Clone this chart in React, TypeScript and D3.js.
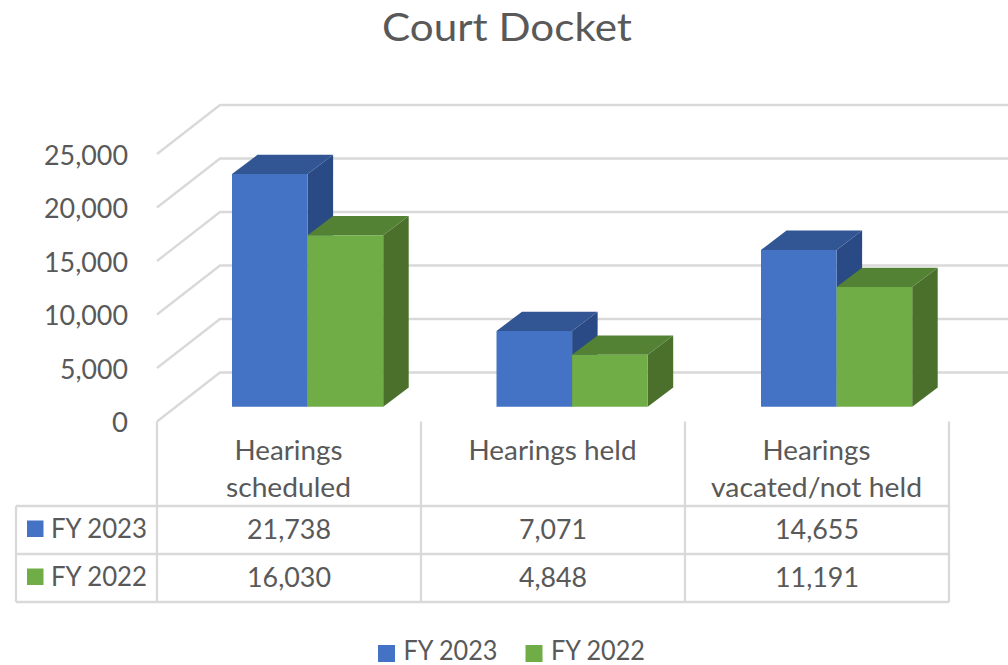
import { useEffect, useRef } from "react";
import * as d3 from "d3";

const title = "Court Docket";
const categories = ["Hearings scheduled", "Hearings held", "Hearings vacated/not held"];
const categoryLines = [["Hearings", "scheduled"], ["Hearings held"], ["Hearings", "vacated/not held"]];
const seriesNames = ["FY 2023", "FY 2022"];
const fy2023 = [21738, 7071, 14655];
const fy2022 = [16030, 4848, 11191];
const yTicks = [0, 5000, 10000, 15000, 20000, 25000];

const textColor = "#595959";
const gridColor = "#d9d9d9";
const fontFamily = "Lato, Carlito, sans-serif";
const seriesColors = [
    { front: "#4472c4", top: "#325593", side: "#2a4a85" },
    { front: "#70ad47", top: "#548235", side: "#4a702c" },
];

export default function App() {
    const ref = useRef<SVGSVGElement>(null);

    useEffect(() => {
        const svg = d3.select(ref.current);
        svg.selectAll("*").remove();
        const fmt = d3.format(",");

        // Lato is wider than the original font, so every label is squeezed to its measured width
        const addText = (s: string, x: number, y: number, size: number, anchor: string, width: number) =>
            svg.append("text")
                .text(s)
                .attr("x", x)
                .attr("y", y)
                .attr("font-size", size)
                .attr("text-anchor", anchor)
                .attr("fill", textColor)
                .attr("font-family", fontFamily)
                .attr("textLength", width)
                .attr("lengthAdjust", "spacingAndGlyphs");

        const numberWidth = (s: string) => (s.length === 1 ? 16 : s.length === 5 ? 68 : 84);

        const tableLeft = 157;
        const tableRight = 949;
        const front0 = 421.5;
        const wallDx = 63;
        const wallDy = 49;
        const barDx = 25.5;
        const barDy = 19.3;
        const barBottom = 406.7;
        const lineWidth = 2.3;

        const h = d3.scaleLinear().domain([0, 25000]).range([0, 267.5]);
        const xBand = d3.scaleBand().domain(categories).range([tableLeft, tableRight]);
        const xBars = d3.scaleBand().domain(categories).range([232, 232 + 793.5]);
        const rows = d3.scaleBand().domain(seriesNames).range([506, 602]);
        const barW = 75.6;

        addText(title, 507, 41, 39, "middle", 250);

        // gridlines: back wall + side wall
        yTicks.forEach((t) => {
            const yf = front0 - h(t);
            const line = d3.line();
            svg.append("path")
                .attr("d", line([[tableLeft, yf], [tableLeft + wallDx, yf - wallDy], [1008, yf - wallDy]]))
                .attr("fill", "none")
                .attr("stroke", gridColor)
                .attr("stroke-width", lineWidth);
            addText(fmt(t), 128, yf + 10.5, 26, "end", numberWidth(fmt(t)));
        });

        // 3d bars
        const poly = (pts: [number, number][], fill: string) =>
            svg.append("path").attr("d", d3.line()(pts) + "Z").attr("fill", fill);

        categories.forEach((c, i) => {
            [fy2023, fy2022].forEach((vals, k) => {
                const x0 = (xBars(c) as number) + k * barW;
                const x1 = x0 + barW;
                const top = barBottom - h(vals[i]);
                const col = seriesColors[k];
                poly([[x1, top], [x1 + barDx, top - barDy], [x1 + barDx, barBottom - barDy], [x1, barBottom]], col.side);
                poly([[x0, top], [x0 + barDx, top - barDy], [x1 + barDx, top - barDy], [x1, top]], col.top);
                poly([[x0, top], [x1, top], [x1, barBottom], [x0, barBottom]], col.front);
            });
        });

        // data table
        const tableLines: [number, number, number, number][] = [
            [16, 506, tableRight, 506],
            [16, 554, tableRight, 554],
            [16, 602, tableRight, 602],
            [16, 506, 16, 602],
        ];
        [...categories.map((c) => xBand(c) as number), tableRight].forEach((x) => {
            tableLines.push([x, front0, x, 602]);
        });
        tableLines.forEach(([x1, y1, x2, y2]) => {
            svg.append("line")
                .attr("x1", x1).attr("y1", y1).attr("x2", x2).attr("y2", y2)
                .attr("stroke", gridColor)
                .attr("stroke-width", lineWidth);
        });

        categories.forEach((c, i) => {
            const cx = (xBand(c) as number) + xBand.bandwidth() / 2;
            const lines = categoryLines[i];
            const widths: Record<string, number> = {
                "Hearings": 108,
                "scheduled": 125,
                "Hearings held": 168,
                "vacated/not held": 211,
            };
            lines.forEach((s, j) => addText(s, cx - 0.5, 459.7 + j * 37, 26, "middle", widths[s]));
            [fy2023, fy2022].forEach((vals, k) => {
                const y = (rows(seriesNames[k]) as number) + 32.5;
                addText(fmt(vals[i]), cx, y, 26, "middle", numberWidth(fmt(vals[i])));
            });
        });

        seriesNames.forEach((s, k) => {
            const y = rows(s) as number;
            svg.append("rect")
                .attr("x", 27).attr("y", y + 14.5)
                .attr("width", 16.5).attr("height", 16.5)
                .attr("fill", seriesColors[k].front);
            addText(s, 51, y + 32, 26, "start", 96);
        });

        // legend
        const legendX = d3.scaleBand().domain(seriesNames).range([378, 673]);
        seriesNames.forEach((s, k) => {
            const x = legendX(s) as number;
            svg.append("rect")
                .attr("x", x).attr("y", 645)
                .attr("width", 17).attr("height", 17)
                .attr("fill", seriesColors[k].front);
            addText(s, x + 25.5, 659.5, 26, "start", 94);
        });
    }, []);

    return (
        <svg
            ref={ref}
            width={1008}
            height={665}
            viewBox="0 0 1008 665"
            style={{ position: "absolute", left: 0, top: 0, background: "#fff" }}
        />
    );
}
